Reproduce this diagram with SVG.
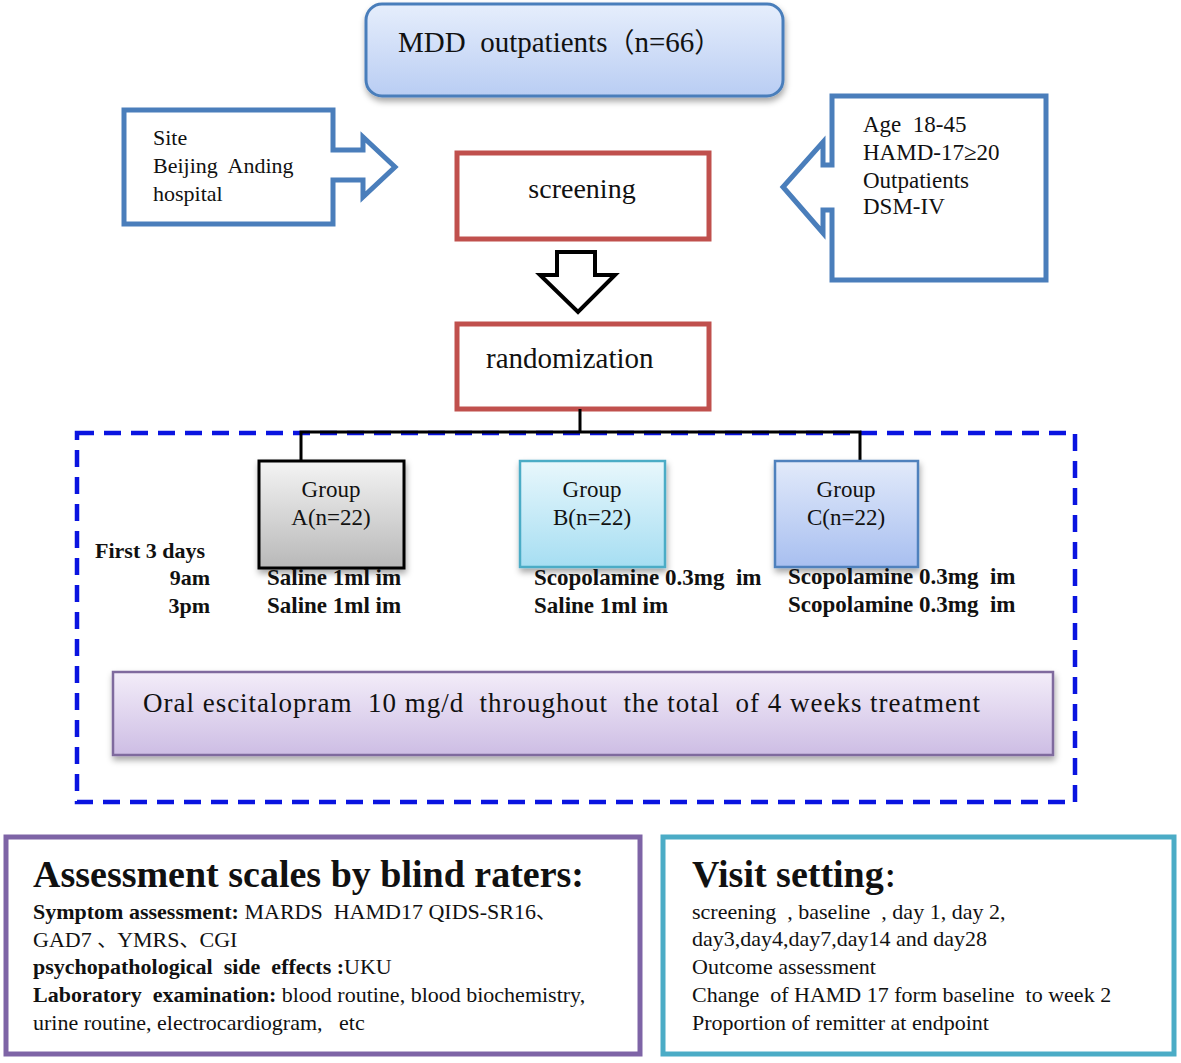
<svg xmlns="http://www.w3.org/2000/svg" width="1181" height="1063" viewBox="0 0 1181 1063">
<defs>
<linearGradient id="gMdd" x1="0" y1="0" x2="0" y2="1"><stop offset="0" stop-color="#e6eefc"/><stop offset="1" stop-color="#b9cdf3"/></linearGradient>
<linearGradient id="gA" x1="0" y1="0" x2="0" y2="1"><stop offset="0" stop-color="#f4f4f4"/><stop offset="1" stop-color="#b8b8b8"/></linearGradient>
<linearGradient id="gB" x1="0" y1="0" x2="0" y2="1"><stop offset="0" stop-color="#e8f7fc"/><stop offset="1" stop-color="#a6def2"/></linearGradient>
<linearGradient id="gC" x1="0" y1="0" x2="0" y2="1"><stop offset="0" stop-color="#e2eafa"/><stop offset="1" stop-color="#a8bff0"/></linearGradient>
<linearGradient id="gO" x1="0" y1="0" x2="0" y2="1"><stop offset="0" stop-color="#f3edf9"/><stop offset="1" stop-color="#cdbde4"/></linearGradient>
<filter id="sh" x="-10%" y="-10%" width="125%" height="135%"><feDropShadow dx="1" dy="4" stdDeviation="3" flood-color="#000" flood-opacity="0.35"/></filter>
</defs>
<style>
text{font-family:"Liberation Serif","Times New Roman",serif;fill:#111;white-space:pre}
.b{font-weight:bold}
.cjk{font-family:"Noto Sans CJK SC",sans-serif}
.callout{fill:#fff;stroke:#4a7ebb;stroke-width:5;stroke-linejoin:miter}
.red{fill:#fff;stroke:#c0504d;stroke-width:5}
.conn{fill:none;stroke:#000;stroke-width:3}
</style>
<rect width="1181" height="1063" fill="#fff"/>

<g id="mdd">
<rect x="366" y="4" width="417" height="92" rx="16" fill="url(#gMdd)" stroke="#4a7ebb" stroke-width="3" filter="url(#sh)"/>
<text x="398" y="52" font-size="29" xml:space="preserve">MDD  outpatients<tspan class="cjk" font-size="27">（</tspan>n=66<tspan class="cjk" font-size="27">）</tspan></text>
</g>

<g id="site">
<path class="callout" d="M124,110 H333 V150 H363 V137 L395,167 L363,197 V180 H333 V224 H124 Z"/>
<text x="153" y="145" font-size="22">Site</text>
<text x="153" y="173" font-size="22" xml:space="preserve">Beijing  Anding</text>
<text x="153" y="201" font-size="22">hospital</text>
</g>

<g id="criteria">
<path class="callout" d="M832,96 H1046 V280 H832 V210 H823 V233 L783,187 L823,142 V165 H832 Z"/>
<text x="863" y="132" font-size="23" xml:space="preserve">Age  18-45</text>
<text x="863" y="160" font-size="23">HAMD-17≥20</text>
<text x="863" y="188" font-size="23">Outpatients</text>
<text x="863" y="214" font-size="23">DSM-IV</text>
</g>

<g id="screening">
<rect class="red" x="457" y="153" width="252" height="86"/>
<text x="582" y="198" font-size="28" text-anchor="middle">screening</text>
</g>

<g id="randomization">
<rect class="red" x="457" y="324" width="252" height="85"/>
<text x="486" y="368" font-size="29">randomization</text>
</g>

<g id="dashed-frame">
<rect x="77" y="433" width="998" height="369" fill="none" stroke="#0a14e0" stroke-width="4.5" stroke-dasharray="17 10"/>
</g>

<g id="connectors">
<path d="M557,252 H595 V275 H615 L578,312 L540,275 H557 Z" fill="#fff" stroke="#000" stroke-width="4" stroke-linejoin="miter"/>
<path class="conn" d="M580,409 V432 M301,460 V432 H860 V460"/>
</g>

<g id="groupA">
<rect x="259" y="461" width="145" height="107" fill="url(#gA)" stroke="#000" stroke-width="3" filter="url(#sh)"/>
<text x="331" y="497" font-size="23" text-anchor="middle">Group</text>
<text x="331" y="525" font-size="23" text-anchor="middle">A(n=22)</text>
</g>
<g id="groupB">
<rect x="520" y="461" width="145" height="106" fill="url(#gB)" stroke="#4bacc6" stroke-width="2.5" filter="url(#sh)"/>
<text x="592" y="497" font-size="23" text-anchor="middle">Group</text>
<text x="592" y="525" font-size="23" text-anchor="middle">B(n=22)</text>
</g>
<g id="groupC">
<rect x="775" y="461" width="143" height="106" fill="url(#gC)" stroke="#4f81bd" stroke-width="2.5" filter="url(#sh)"/>
<text x="846" y="497" font-size="23" text-anchor="middle">Group</text>
<text x="846" y="525" font-size="23" text-anchor="middle">C(n=22)</text>
</g>

<g id="dosing">
<text class="b" x="95" y="558" font-size="22">First 3 days</text>
<text class="b" x="210" y="585" font-size="22" text-anchor="end">9am</text>
<text class="b" x="210" y="613" font-size="22" text-anchor="end">3pm</text>
<text class="b" x="267" y="585" font-size="23">Saline 1ml im</text>
<text class="b" x="267" y="613" font-size="23">Saline 1ml im</text>
<text class="b" x="534" y="585" font-size="23" xml:space="preserve">Scopolamine 0.3mg  im</text>
<text class="b" x="534" y="613" font-size="23">Saline 1ml im</text>
<text class="b" x="788" y="584" font-size="23" xml:space="preserve">Scopolamine 0.3mg  im</text>
<text class="b" x="788" y="612" font-size="23" xml:space="preserve">Scopolamine 0.3mg  im</text>
</g>

<g id="oral">
<rect x="113" y="672" width="940" height="83" fill="url(#gO)" stroke="#7f6a9e" stroke-width="2.5" filter="url(#sh)"/>
<text x="143" y="712" font-size="27" textLength="837" xml:space="preserve">Oral escitalopram  10 mg/d  throughout  the total  of 4 weeks treatment</text>
</g>

<g id="assessment">
<rect x="6" y="837" width="634" height="217" fill="#fff" stroke="#7e64a6" stroke-width="5"/>
<text class="b" x="33" y="887" font-size="38">Assessment scales by blind raters:</text>
<text x="33" y="919" font-size="22" xml:space="preserve"><tspan class="b">Symptom assessment:</tspan> MARDS  HAMD17 QIDS-SR16<tspan class="cjk" font-size="20">、</tspan></text>
<text x="33" y="947" font-size="22" xml:space="preserve">GAD7 <tspan class="cjk" font-size="20">、</tspan>YMRS<tspan class="cjk" font-size="20">、</tspan>CGI</text>
<text x="33" y="974" font-size="22" xml:space="preserve"><tspan class="b">psychopathological  side  effects :</tspan>UKU</text>
<text x="33" y="1002" font-size="22" xml:space="preserve"><tspan class="b">Laboratory  examination:</tspan> blood routine, blood biochemistry,</text>
<text x="33" y="1030" font-size="22" xml:space="preserve">urine routine, electrocardiogram,   etc</text>
</g>

<g id="visit">
<rect x="663" y="837" width="511" height="217" fill="#fff" stroke="#4bacc6" stroke-width="5"/>
<text class="b" x="692" y="887" font-size="38">Visit setting<tspan class="cjk" font-size="26">：</tspan></text>
<text x="692" y="919" font-size="22" xml:space="preserve">screening  , baseline  , day 1, day 2,</text>
<text x="692" y="946" font-size="22">day3,day4,day7,day14 and day28</text>
<text x="692" y="974" font-size="22">Outcome assessment</text>
<text x="692" y="1002" font-size="22" xml:space="preserve">Change  of HAMD 17 form baseline  to week 2</text>
<text x="692" y="1030" font-size="22">Proportion of remitter at endpoint</text>
</g>
</svg>
